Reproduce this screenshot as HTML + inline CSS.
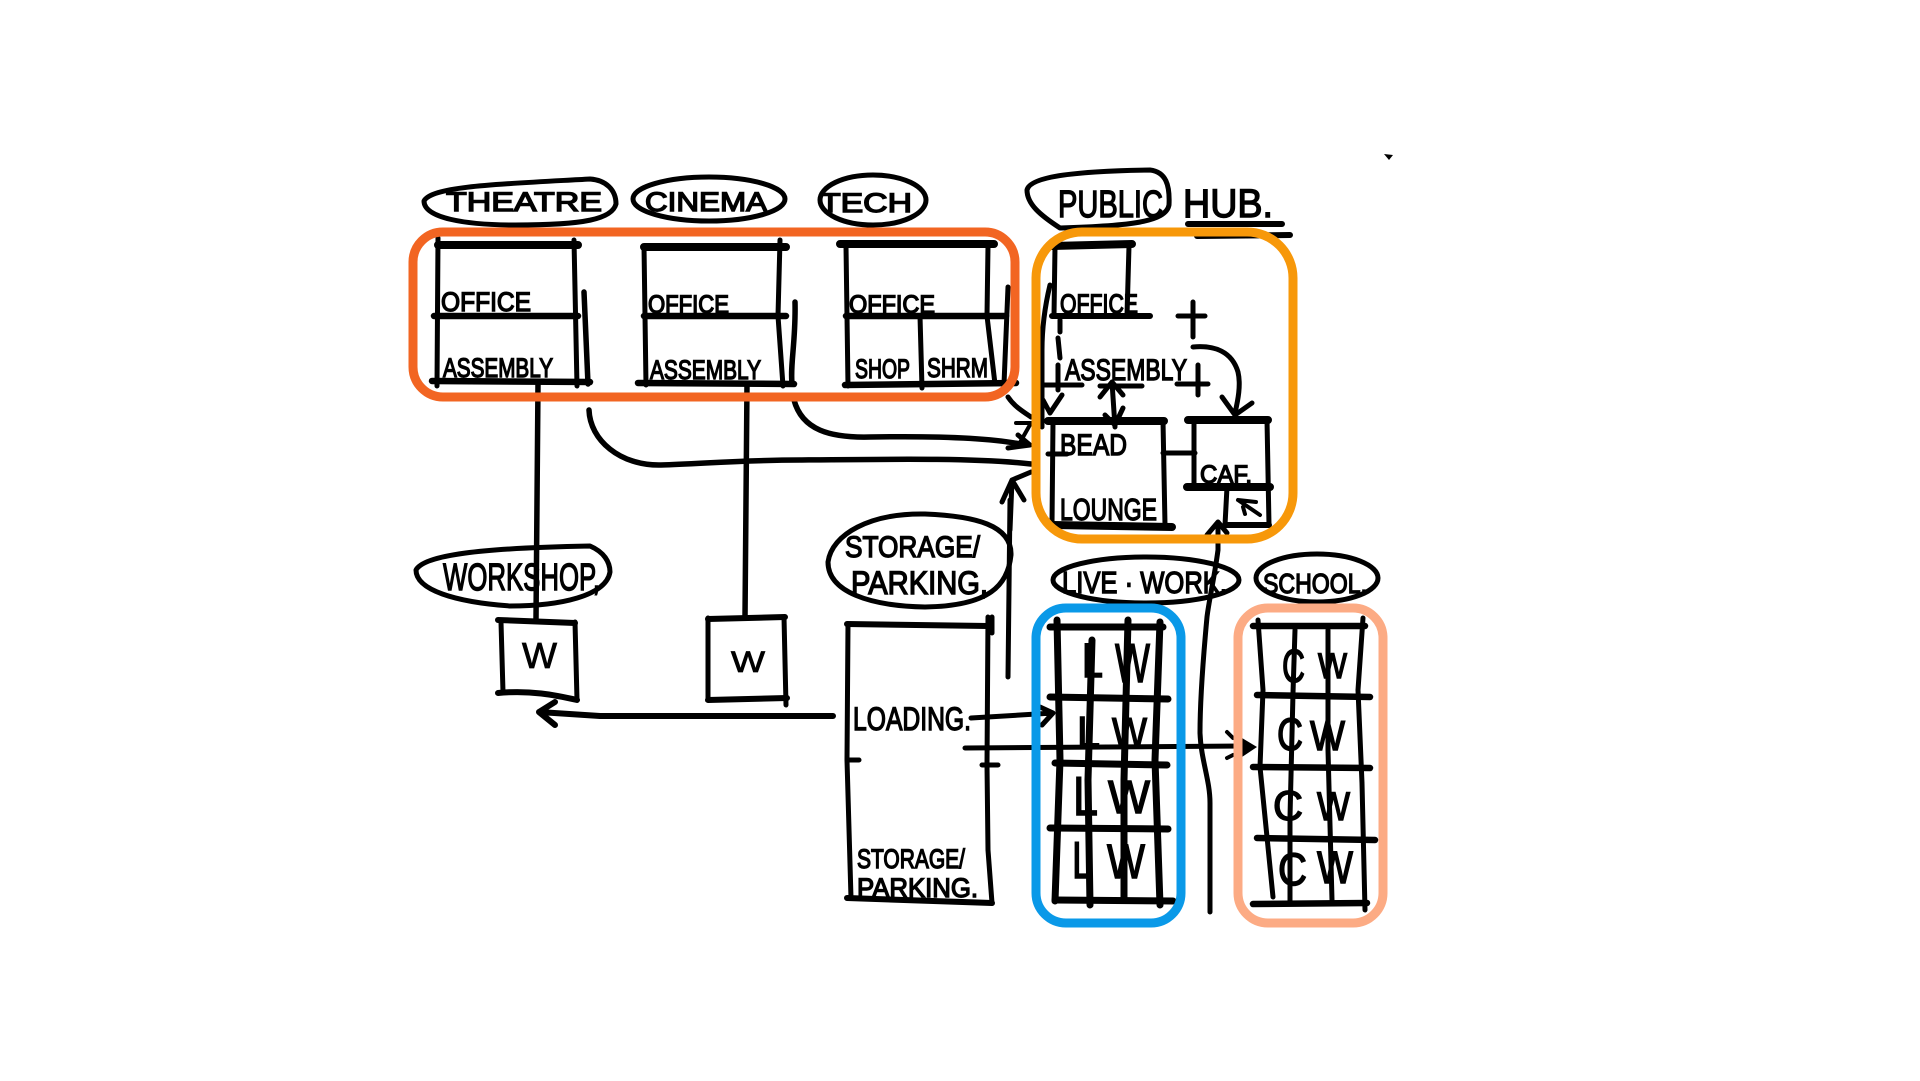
<!DOCTYPE html>
<html><head><meta charset="utf-8"><style>
html,body{margin:0;padding:0;background:#fff;width:1920px;height:1081px;overflow:hidden}
svg{display:block}
text{font-family:"Liberation Sans",sans-serif;fill:#000;stroke:#000;stroke-width:1.4px;font-size:27px}
.t{fill:none;stroke:#000;stroke-linecap:round;stroke-linejoin:round}
</style></head><body>
<svg width="1920" height="1081" viewBox="0 0 1920 1081" xmlns="http://www.w3.org/2000/svg">
<rect width="1920" height="1081" fill="#fff"/>

<!-- label ellipses -->
<g class="t" stroke-width="5">
<path d="M424 201C432 186 500 184 590 179C606 180 616 190 616 204C612 219 585 225 515 225C465 225 424 218 424 201Z"/>
<ellipse cx="709" cy="199" rx="76" ry="22"/>
<ellipse cx="873" cy="200" rx="53" ry="25"/>
<path d="M1027 190C1030 176 1080 171 1150 170C1166 172 1170 185 1169 205C1166 222 1130 226 1060 228C1040 215 1027 204 1027 190Z"/>
<path d="M416 570C424 555 480 548 590 546C604 552 610 562 610 572C606 596 560 606 510 606C455 602 416 590 416 570Z"/>
<path d="M828 562C832 534 870 513 925 514C975 516 1012 525 1011 555C1008 585 990 606 925 607C870 606 828 592 828 562Z"/>
<ellipse cx="1146" cy="580" rx="93" ry="23"/>
<ellipse cx="1317" cy="578" rx="61" ry="24"/>
</g>

<!-- sketch boxes -->
<g class="t" stroke-width="5">
<path d="M438 238L437 386M574 240L577 386M644 246L646 385M780 240L778 316L783 386M846 246L848 386M988 246L987 316L995 384M920 316L922 388"/>
<path d="M584 292L588 384M589 410C590 440 620 466 661 465C700 464 740 460 800 460C900 459 980 458 1031 464" stroke-width="5.5"/>
<path d="M795 302C796 340 790 365 792 383M794 400C802 430 830 438 870 437C930 436 990 437 1025 445" stroke-width="5.5"/>
<path d="M1008 287L1004 384M1008 397C1014 406 1022 411 1031 417"/>
<path d="M538 384L536 620M747 384L745 618" stroke-width="5.5"/>
</g>
<g class="t" stroke-width="8">
<path d="M438 245L578 245M644 247L786 247M840 244L994 244"/>
</g>
<g class="t" stroke-width="6.5">
<path d="M434 316L578 316M644 316L786 316M846 316L1006 316M432 381L590 382M638 383L794 384M845 385L1016 383"/>
</g>

<!-- W boxes -->
<g class="t" stroke-width="5">
<path d="M501 622L503 692M575 622L577 700M708 618L708 700M784 617L786 705"/>
</g>
<g class="t" stroke-width="6">
<path d="M498 620L575 623M498 693C530 690 555 695 577 700M708 619L785 617M708 700L787 698"/>
<path d="M833 716L600 716L539 712M555 702L539 712L555 725"/>
</g>

<!-- loading box -->
<g class="t" stroke-width="5">
<path d="M848 624L847 760L851 898M988 617L987 765L988 850L992 903M992 617L992 633"/>
<path d="M1010 500L1008 677M1012 480L1010 530M1002 502L1012 480L1024 500M1012 480L1031 472"/>
<path d="M848 760L859 760M982 765L998 765M971 718L1053 713M1040 707L1053 713L1042 725M965 748L1243 746"/>
</g>
<g class="t" stroke-width="6"><path d="M847 624L988 626M847 898L992 903"/></g>

<!-- public hub -->
<g class="t" stroke-width="5">
<path d="M1055 247L1054 316M1129 246L1127 316M1193 302L1193 337M1178 316L1205 316"/>
<path d="M1060 320L1060 332M1058 338L1060 358M1058 365L1058 390M1198 365L1198 395"/>
<path d="M1043 385L1082 385M1100 386L1142 386M1177 384L1208 384"/>
<path d="M1050 285C1044 310 1042 330 1042 350L1042 427M1062 395L1050 413L1043 400"/>
<path d="M1112 382L1115 427M1100 397L1112 382L1123 395M1105 415L1115 425L1123 408"/>
<path d="M1193 347C1215 345 1232 352 1238 372C1241 385 1238 400 1235 413M1222 397L1235 415L1252 403"/>
<path d="M1053 421L1052 525M1163 421L1165 525M1163 453L1195 453M1194 420L1194 487M1267 420L1269 525M1227 487L1225 525M1048 454L1067 454"/>
<path d="M1218 522L1218 550C1214 580 1209 600 1207 617C1203 660 1200 700 1200 733C1201 760 1210 780 1210 803L1210 912M1207 535L1218 522L1227 533"/>
<path d="M1238 500L1256 502M1238 500L1260 515M1243 507L1245 514" stroke-width="4"/>
<path d="M1016 423L1031 423L1018 446" stroke-width="4"/>
<path d="M1008 448L1030 445M1030 445L1018 435" stroke-width="5"/>
</g>
<g class="t" stroke-width="8">
<path d="M1052 246L1132 244M1048 421L1164 421M1188 420L1268 420M1053 525L1172 527M1187 487L1270 487"/>
</g>
<g class="t" stroke-width="6">
<path d="M1052 316L1150 316M1225 525L1269 525M1188 224L1282 224M1197 236L1290 235"/>
</g>

<!-- live/work grid -->
<g class="t" stroke-width="7">
<path d="M1050 627L1163 627M1050 697L1168 699M1055 763L1167 765M1050 828L1168 829M1055 900L1173 901"/>
<path d="M1057 620L1060 760L1055 901M1092 640L1088 780L1090 905M1128 620L1124 780L1124 900M1160 622L1155 760L1160 905"/>
</g>
<!-- school grid -->
<g class="t" stroke-width="5">
<path d="M1258 620L1263 690L1260 767L1267 837L1273 897M1295 630L1293 693L1290 817L1290 903M1328 630L1328 750L1332 900M1363 618L1358 690L1362 783L1365 910"/>
</g>
<g class="t" stroke-width="6.5">
<path d="M1253 626L1365 626M1257 695L1370 697M1253 767L1370 768M1257 838L1375 840M1253 904L1367 903"/>
</g>
<path d="M1242 738L1257 747L1242 757Z" fill="#000"/>
<path class="t" stroke-width="4" d="M1227 732L1233 738M1227 758L1233 755"/>
<path d="M1384 154L1393 155L1389 160Z" fill="#000"/>

<!-- text -->
<text x="446" y="211" textLength="156" lengthAdjust="spacingAndGlyphs">THEATRE</text>
<text x="645" y="211" textLength="122" lengthAdjust="spacingAndGlyphs">CINEMA</text>
<text x="820" y="212" textLength="92" lengthAdjust="spacingAndGlyphs">TECH</text>
<text x="1058" y="217" style="font-size:38px" textLength="105" lengthAdjust="spacingAndGlyphs">PUBLIC</text>
<text x="1183" y="217" style="font-size:40px" textLength="90" lengthAdjust="spacingAndGlyphs">HUB.</text>

<text x="441" y="311" textLength="90" lengthAdjust="spacingAndGlyphs">OFFICE</text>
<text x="443" y="377" textLength="110" lengthAdjust="spacingAndGlyphs">ASSEMBLY</text>
<text x="648" y="313" textLength="81" lengthAdjust="spacingAndGlyphs" style="font-size:25px">OFFICE</text>
<text x="650" y="379" textLength="111" lengthAdjust="spacingAndGlyphs">ASSEMBLY</text>
<text x="849" y="313" textLength="86" lengthAdjust="spacingAndGlyphs" style="font-size:25px">OFFICE</text>
<text x="855" y="378" textLength="55" lengthAdjust="spacingAndGlyphs">SHOP</text>
<text x="927" y="377" textLength="61" lengthAdjust="spacingAndGlyphs">SHRM</text>

<text x="1060" y="313" textLength="78" lengthAdjust="spacingAndGlyphs">OFFICE</text>
<text x="1065" y="380" textLength="122" lengthAdjust="spacingAndGlyphs" style="font-size:30px">ASSEMBLY</text>
<text x="1060" y="455" textLength="67" lengthAdjust="spacingAndGlyphs" style="font-size:30px">BEAD</text>
<text x="1060" y="520" textLength="97" lengthAdjust="spacingAndGlyphs" style="font-size:31px">LOUNGE</text>
<text x="1200" y="483" textLength="52" lengthAdjust="spacingAndGlyphs" style="font-size:25px">CAF.</text>

<text x="443" y="590" textLength="157" lengthAdjust="spacingAndGlyphs" style="font-size:38px">WORKSHOP,</text>
<text x="522" y="668" textLength="35" lengthAdjust="spacingAndGlyphs" style="font-size:36px;stroke-width:.8px">W</text>
<text x="731" y="672" textLength="34" lengthAdjust="spacingAndGlyphs" style="font-size:30px;stroke-width:.8px">W</text>
<text x="845" y="557" textLength="135" lengthAdjust="spacingAndGlyphs" style="font-size:30px">STORAGE/</text>
<text x="851" y="594" textLength="137" lengthAdjust="spacingAndGlyphs" style="font-size:32px">PARKING,</text>
<text x="853" y="730" textLength="118" lengthAdjust="spacingAndGlyphs" style="font-size:32px">LOADING.</text>
<text x="857" y="868" textLength="108" lengthAdjust="spacingAndGlyphs">STORAGE/</text>
<text x="857" y="897" textLength="121" lengthAdjust="spacingAndGlyphs">PARKING.</text>
<text x="1062" y="593" textLength="165" lengthAdjust="spacingAndGlyphs" style="font-size:31px">LIVE · WORK.</text>
<text x="1263" y="593" textLength="104" lengthAdjust="spacingAndGlyphs" style="font-size:28px">SCHOOL.</text>

<g>
<text x="1082" y="677" textLength="21" lengthAdjust="spacingAndGlyphs" style="font-size:48px">L</text>
<text x="1115" y="682" textLength="35" lengthAdjust="spacingAndGlyphs" style="font-size:55px">W</text>
<text x="1077" y="747" textLength="23" lengthAdjust="spacingAndGlyphs" style="font-size:44px">L</text>
<text x="1112" y="747" textLength="35" lengthAdjust="spacingAndGlyphs" style="font-size:42px">W</text>
<text x="1073" y="815" textLength="25" lengthAdjust="spacingAndGlyphs" style="font-size:55px">L</text>
<text x="1108" y="813" textLength="42" lengthAdjust="spacingAndGlyphs" style="font-size:46px">W</text>
<text x="1072" y="878" textLength="21" lengthAdjust="spacingAndGlyphs" style="font-size:52px">L</text>
<text x="1107" y="878" textLength="38" lengthAdjust="spacingAndGlyphs" style="font-size:48px">W</text>
<text x="1282" y="682" textLength="23" lengthAdjust="spacingAndGlyphs" style="font-size:46px">C</text>
<text x="1318" y="678" textLength="29" lengthAdjust="spacingAndGlyphs" style="font-size:35px">W</text>
<text x="1277" y="750" textLength="26" lengthAdjust="spacingAndGlyphs" style="font-size:45px">C</text>
<text x="1310" y="750" textLength="35" lengthAdjust="spacingAndGlyphs" style="font-size:42px">W</text>
<text x="1273" y="820" textLength="30" lengthAdjust="spacingAndGlyphs" style="font-size:42px">C</text>
<text x="1317" y="820" textLength="33" lengthAdjust="spacingAndGlyphs" style="font-size:40px">W</text>
<text x="1278" y="885" textLength="29" lengthAdjust="spacingAndGlyphs" style="font-size:45px">C</text>
<text x="1317" y="883" textLength="36" lengthAdjust="spacingAndGlyphs" style="font-size:45px">W</text>
</g>

<!-- coloured overlays -->
<g fill="none" stroke-width="9">
<rect x="413" y="232" width="602" height="165" rx="30" stroke="#f26522"/>
<rect x="1036" y="232" width="257" height="307" rx="46" stroke="#f7980a"/>
<rect x="1036" y="608" width="145" height="315" rx="30" stroke="#0a99e8"/>
<rect x="1238" y="608" width="145" height="315" rx="30" stroke="#fcab84"/>
</g>
</svg>
</body></html>
